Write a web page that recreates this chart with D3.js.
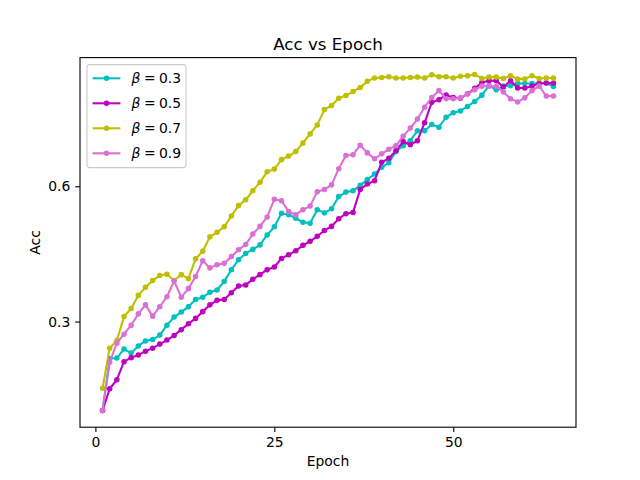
<!DOCTYPE html>
<html><head><meta charset="utf-8">
<script src="https://cdn.jsdelivr.net/npm/d3@7"></script>
<style>body{margin:0;background:#fff}svg text{font-family:"DejaVu Sans",sans-serif;fill:#000}</style>
</head><body><svg id="c" width="640" height="480"></svg>
<script>
const epochs = d3.range(1, 65);
const acc03 = [0.103,0.218,0.219,0.239,0.230,0.246,0.257,0.260,0.270,0.292,0.310,0.321,0.333,0.349,0.354,0.365,0.370,0.389,0.415,0.437,0.451,0.460,0.470,0.492,0.510,0.540,0.537,0.529,0.520,0.518,0.548,0.541,0.550,0.577,0.587,0.590,0.602,0.615,0.627,0.642,0.652,0.677,0.690,0.701,0.723,0.723,0.737,0.731,0.753,0.763,0.767,0.777,0.788,0.802,0.823,0.814,0.822,0.823,0.828,0.828,0.828,0.828,0.829,0.821];
const acc05 = [0.103,0.151,0.171,0.211,0.220,0.226,0.234,0.241,0.250,0.259,0.269,0.282,0.295,0.307,0.322,0.337,0.347,0.349,0.364,0.379,0.381,0.394,0.404,0.415,0.421,0.440,0.448,0.457,0.469,0.478,0.489,0.502,0.511,0.528,0.539,0.542,0.593,0.605,0.612,0.653,0.662,0.679,0.699,0.692,0.701,0.741,0.786,0.792,0.802,0.797,0.795,0.805,0.817,0.830,0.834,0.834,0.820,0.834,0.818,0.818,0.822,0.828,0.829,0.829];
const acc07 = [0.152,0.241,0.258,0.311,0.329,0.358,0.376,0.391,0.402,0.405,0.391,0.404,0.395,0.439,0.456,0.488,0.498,0.510,0.534,0.557,0.570,0.590,0.609,0.632,0.638,0.659,0.667,0.677,0.696,0.716,0.736,0.770,0.779,0.795,0.801,0.810,0.819,0.833,0.840,0.841,0.843,0.840,0.840,0.841,0.842,0.840,0.847,0.843,0.843,0.840,0.844,0.845,0.848,0.839,0.842,0.842,0.839,0.845,0.838,0.838,0.845,0.839,0.840,0.840];
const acc09 = [0.103,0.210,0.252,0.272,0.292,0.317,0.337,0.312,0.333,0.355,0.390,0.354,0.373,0.400,0.435,0.419,0.426,0.429,0.444,0.459,0.471,0.494,0.511,0.532,0.571,0.568,0.544,0.537,0.548,0.556,0.588,0.593,0.603,0.639,0.668,0.670,0.691,0.674,0.661,0.672,0.682,0.690,0.711,0.729,0.749,0.775,0.797,0.812,0.794,0.794,0.796,0.805,0.814,0.822,0.822,0.821,0.809,0.794,0.787,0.796,0.812,0.822,0.800,0.800];
const seriesLabels = ["0.3","0.5","0.7","0.9"];
const seriesColors = ["#00bfbf","#bf00bf","#bfbf00","#da70d6"];
const xTicks = [0,25,50];
const yTicks = [0.3,0.6];
const titleText = "Acc vs Epoch", xLabel = "Epoch", yLabel = "Acc";

const allSeries = [acc03, acc05, acc07, acc09];
const L = 80, R = 576, T = 57.6, B = 427.2;
const svg = d3.select("#c");

const xmin = d3.min(epochs), xmax = d3.max(epochs);
const xpad = (xmax - xmin) * 0.05;
const x = d3.scaleLinear().domain([xmin - xpad, xmax + xpad]).range([L, R]);
const allV = allSeries.flat();
const ymin = d3.min(allV), ymax = d3.max(allV);
const ypad = (ymax - ymin) * 0.05;
const y = d3.scaleLinear().domain([ymin - ypad, ymax + ypad]).range([B, T]);

const line = d3.line().x((d,i)=>x(epochs[i])).y(d=>y(d));
allSeries.forEach((s, k) => {
  const g = svg.append("g");
  g.append("path").datum(s).attr("d", line).attr("fill","none")
    .attr("stroke", seriesColors[k]).attr("stroke-width", 2.08).attr("stroke-linejoin","round").attr("stroke-linecap","square");
  g.selectAll("circle").data(s).join("circle")
    .attr("cx",(d,i)=>x(epochs[i])).attr("cy",d=>y(d)).attr("r",2.08)
    .attr("fill",seriesColors[k]).attr("stroke",seriesColors[k]).attr("stroke-width",1.39);
});

// axes frame
svg.append("rect").attr("x",L).attr("y",T).attr("width",R-L).attr("height",B-T)
  .attr("fill","none").attr("stroke","#000").attr("stroke-width",1.1);

const xAxis = d3.axisBottom(x).tickValues(xTicks).tickSize(4.86).tickPadding(4.86).tickFormat(d3.format("d"));
const gx = svg.append("g").attr("transform",`translate(0,${B})`).call(xAxis);
gx.select(".domain").remove();
gx.selectAll("line").attr("stroke","#000").attr("stroke-width",1.1);
gx.selectAll("text").attr("font-size","13.9px").attr("font-family","DejaVu Sans").attr("fill","#000");

const yAxis = d3.axisLeft(y).tickValues(yTicks).tickSize(4.86).tickPadding(4.86).tickFormat(d3.format(".1f"));
const gy = svg.append("g").attr("transform",`translate(${L},0)`).call(yAxis);
gy.select(".domain").remove();
gy.selectAll("line").attr("stroke","#000").attr("stroke-width",1.1);
gy.selectAll("text").attr("font-size","13.9px").attr("font-family","DejaVu Sans").attr("fill","#000");

svg.append("text").attr("x",(L+R)/2).attr("y",49.5).attr("text-anchor","middle")
  .attr("font-size","16.7px").text(titleText);
svg.append("text").attr("x",(L+R)/2).attr("y",466).attr("text-anchor","middle")
  .attr("font-size","13.9px").text(xLabel);
svg.append("text").attr("transform",`translate(40,${(T+B)/2}) rotate(-90)`).attr("text-anchor","middle")
  .attr("font-size","13.9px").text(yLabel);

// legend
const lg = svg.append("g");
lg.append("rect").attr("x",87).attr("y",64.6).attr("width",99).attr("height",103)
  .attr("rx",2.8).attr("fill","#fff").attr("fill-opacity",0.8).attr("stroke","#cccccc").attr("stroke-width",1.1);
seriesLabels.forEach((lab,k)=>{
  const cy = 78.3 + k*25;
  lg.append("line").attr("x1",92.6).attr("x2",120.4).attr("y1",cy).attr("y2",cy)
    .attr("stroke",seriesColors[k]).attr("stroke-width",2.08);
  lg.append("circle").attr("cx",106.5).attr("cy",cy).attr("r",2.08)
    .attr("fill",seriesColors[k]).attr("stroke",seriesColors[k]).attr("stroke-width",1.39);
  const t = lg.append("text").attr("x",131.5).attr("y",cy+5).attr("font-size","13.9px");
  t.append("tspan").attr("font-style","italic").text("β");
  t.append("tspan").attr("dx","3.5").text("=");
  t.append("tspan").attr("dx","3.5").text(lab);
});
</script></body></html>
